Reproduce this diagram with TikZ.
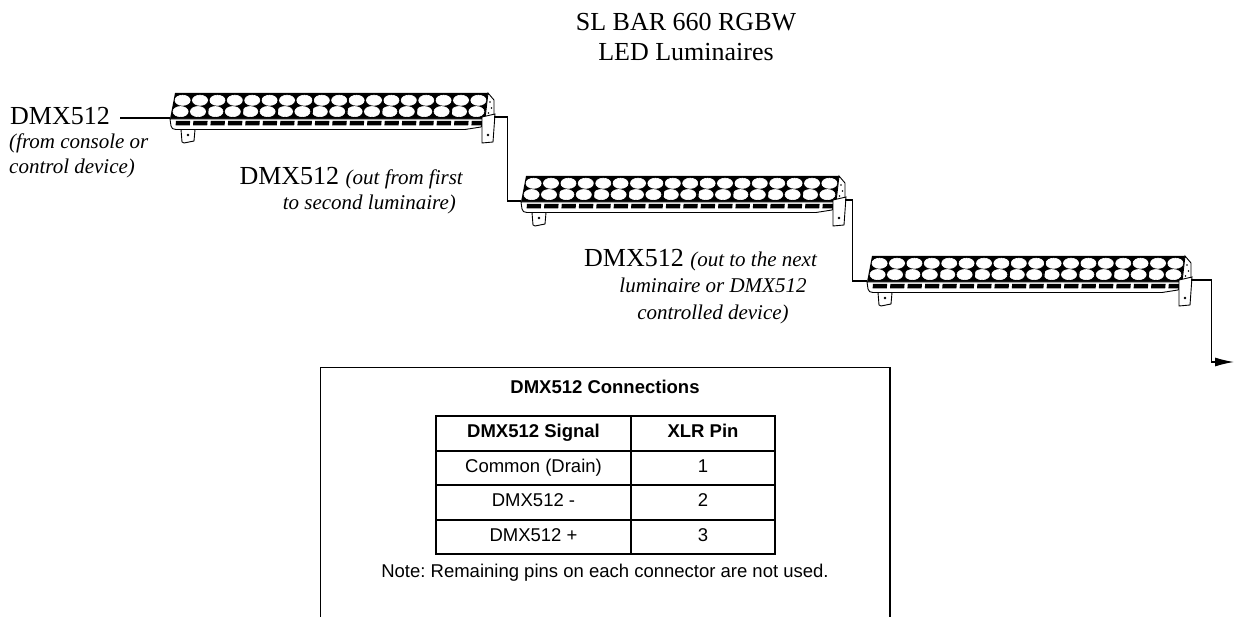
\documentclass[tikz,border=0pt]{standalone}
\usepackage{fontspec}
\setmainfont{Liberation Serif}
\newfontfamily\arialf{Liberation Sans}
\usetikzlibrary{arrows.meta}
\frenchspacing
\newcommand\bigsz{\fontsize{26}{31}\selectfont}
\newcommand\itsz{\fontsize{21}{25}\selectfont\itshape}
\newcommand\tabsz{\arialf\fontsize{18.5}{22}\selectfont}
\tikzset{
  lum/.pic={
    % front face
    \fill[black] (0,0) -- (313,0) -- (310,26) -- (-5,26) -- cycle;
    \foreach \i in {0,...,17}{
      \draw[white, line width=0.6pt, fill=white] (7.6+17.4*\i,7.3) ellipse [x radius=7.6pt, y radius=5.1pt];
      \draw[white, line width=0.6pt, fill=white] (5.6+17.4*\i,18.6) ellipse [x radius=7.6pt, y radius=5.1pt];
    }
    \foreach \i in {1,...,8}{
      \draw[black, line width=1.2pt] (-0.5+34.8*\i,1) -- (-2.5+34.8*\i,25);
    }
    % lower strip
    \draw[line width=0.9pt, fill=white] (-5,26) -- (310,26) -- (306,34) -- (290,36.5) -- (1,36.5) to[out=180,in=-90] (-4,33) -- cycle;
    \foreach \i in {0,...,17}{
      \fill[black] (1+17.4*\i,27.8) -- ++(14.2,0) -- ++(-0.4,4.6) -- ++(-14.2,0) -- cycle;
    }
    % end cap
    \draw[line width=0.9pt, fill=white] (313,0) -- (319,7) -- (319,31) -- (308,35) -- (310,26) -- cycle;
    \fill (315,9) circle (0.9pt) (316.5,15) circle (0.9pt) (313.5,20) circle (0.9pt) (316,26) circle (0.9pt);
    % right bracket
    \draw[line width=0.9pt, fill=white] (307,24) -- (320,21) -- (318,49) -- (307,50) -- cycle;
    \fill (313,42) circle (1.3pt);
    % left bracket
    \draw[line width=0.9pt, fill=white] (6,36.5) -- (20,36.5) -- (19,48) -- (9,50) -- (7,49) -- cycle;
    \fill (13,42) circle (1.3pt);
    \coordinate (-in) at (-5,25);
    \coordinate (-out) at (319,24);
  },
  wire/.style={line width=1.3pt},
  lbl/.style={inner sep=0pt},
  cell/.style={inner sep=0pt, anchor=base, font=\tabsz},
  hcell/.style={inner sep=0pt, anchor=base, font=\tabsz\bfseries},
}
\begin{document}
\begin{tikzpicture}[x=1pt,y=-1pt]
\useasboundingbox (0,0) rectangle (1242,617);
% title
\node[lbl, anchor=base] (title1) at (686,31) {\bigsz SL BAR 660 RGBW};
\node[lbl, anchor=base] (title2) at (686,61) {\bigsz LED Luminaires};
% luminaires
\pic (L1) at (175,93) {lum};
\pic (L2) at (526,176) {lum};
\pic (L3) at (872,256) {lum};
% junction coordinates
\coordinate (J1) at (507.5,0);
\coordinate (J2) at (852.5,0);
\coordinate (J3) at (1211.5,0);
\coordinate (end) at (1234,362);
% input label
\node[lbl, anchor=base west] (src) at (10,125) {\bigsz DMX512};
\node[lbl, anchor=base west] (srcA) at (9,149) {\itsz (from console or};
\node[lbl, anchor=base west] (srcB) at (9,174) {\itsz control device)};
\draw[wire] ([xshift=10pt]src.east |- L1-in) -- (L1-in);
% connectors
\draw[wire] (L1-out) -- (L1-out -| J1) -- (J1 |- L2-in) -- (L2-in);
\draw[wire] (L2-out) -- (L2-out -| J2) -- (J2 |- L3-in) -- (L3-in);
\draw[wire, -{Latex[length=19pt,width=9pt]}] (L3-out) -- (L3-out -| J3) -- (J3 |- end) -- (end);
% labels
\node[lbl, anchor=base east] (lab2a) at (463,185) {\bigsz DMX512 {\itsz(out from first}};
\node[lbl, anchor=base east] (lab2b) at (456,210) {\itsz to second luminaire)};
\node[lbl, anchor=base] (lab3a) at (700.5,267) {\bigsz DMX512 {\itsz(out to the next}};
\node[lbl, anchor=base] (lab3b) at (713,293) {\itsz luminaire or DMX512};
\node[lbl, anchor=base] (lab3c) at (713,320) {\itsz controlled device)};
% connections box
\draw[line width=1.5pt] (320.7,617) -- (320.7,367.7) -- (890,367.7) -- (890,617);
\node[lbl, anchor=base, font=\tabsz\bfseries] (ttl) at (605,394) {DMX512 Connections};
\draw[line width=2pt] (436,416) rectangle (775,554);
\draw[line width=2pt] (631,416) -- (631,554);
\foreach \yy in {450.5,485,519.5} \draw[line width=2pt] (436,\yy) -- (775,\yy);
\node[hcell] (h1) at (533.5,437.7) {DMX512 Signal};
\node[hcell] (h2) at (703,437.7) {XLR Pin};
\node[cell] (r1a) at (533.5,472.3) {Common (Drain)};
\node[cell] (r1b) at (703,472.3) {1};
\node[cell] (r2a) at (533.5,506.8) {DMX512 -};
\node[cell] (r2b) at (703,506.8) {2};
\node[cell] (r3a) at (533.5,541.3) {DMX512 +};
\node[cell] (r3b) at (703,541.3) {3};
\node[lbl, anchor=base, font=\tabsz] (note) at (605,577.3) {Note: Remaining pins on each connector are not used.};
\end{tikzpicture}
\end{document}
